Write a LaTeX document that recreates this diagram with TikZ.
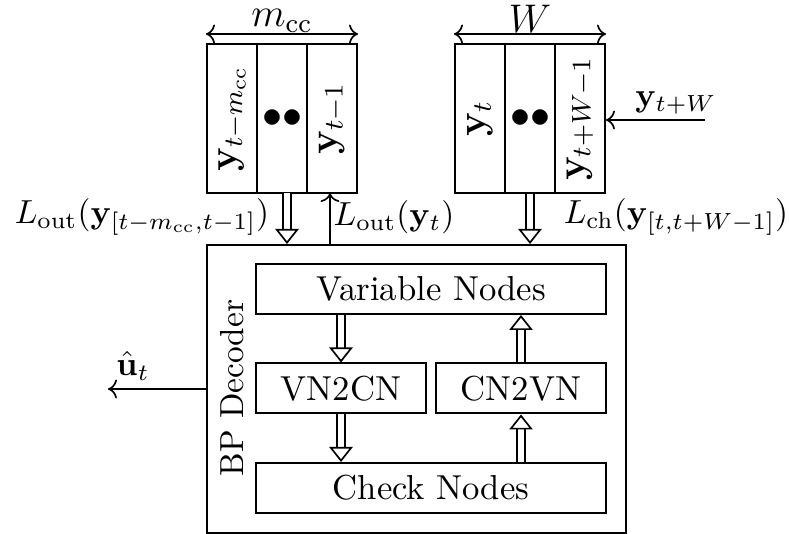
\documentclass[tikz,border=0pt]{standalone}
\usepackage{amsmath}
\usepackage{graphicx}
\usetikzlibrary{arrows.meta}
\tikzset{
      cell/.style={draw, line width=0.6pt, minimum width=15pt, minimum height=44.7pt, inner sep=0pt, font=\large},
      block/.style={draw, line width=0.6pt, minimum height=15pt, inner sep=0pt, font=\fontsize{10.4}{12.5}\selectfont},
      dbl/.style={draw, double, double distance=2pt, line width=0.5pt,
            -{Triangle[open, length=4.5pt, width=7pt]}},
      sgl/.style={draw, line width=0.5pt, -{To}},
      dimline/.style={draw, line width=0.5pt, {To}-{To}},
}
\begin{document}
\begin{tikzpicture}[x=0.3pt,y=-0.3pt]
        \useasboundingbox (0,0) rectangle (789,534);

        % Draw the buffers
        \node[cell] (l1) at (232,118.5) {\rotatebox{90}{$\mathbf{y}_{t-m_{\mathrm{cc}}}$}};
        \node[cell] (l2) at (282,118.5) {$\bullet\bullet$};
        \node[cell] (l3) at (332,118.5) {\rotatebox{90}{$\mathbf{y}_{t-1}$}};
        \node[cell] (r1) at (480,118.5) {\rotatebox{90}{$\mathbf{y}_{t}$}};
        \node[cell] (r2) at (530,118.5) {$\bullet\bullet$};
        \node[cell] (r3) at (580,118.5) {\rotatebox{90}{$\mathbf{y}_{t+W-1}$}};

        \draw[dimline] ([yshift=2.7pt]l1.north west) -- ([yshift=2.7pt]l3.north east) node[midway, above, inner sep=0.3pt, font=\large] {$m_{\mathrm{cc}}$};
        \draw[dimline] ([yshift=2.7pt]r1.north west) -- ([yshift=2.7pt]r3.north east) node[midway, above, inner sep=0.3pt, font=\large] {$W$};

        % Draw the decoder
        \node[draw, line width=0.6pt, minimum width=125.7pt, minimum height=86.4pt] (dec) at (416.5,389) {};
        \node[rotate=90] (bp) at (232,388) {BP Decoder};
        \node[block, minimum width=105pt] (vn) at (431,289) {Variable Nodes};
        \node[block, minimum width=51pt] (vc) at (341,388.5) {VN2CN};
        \node[block, minimum width=51pt] (cv) at (521,388.5) {CN2VN};
        \node[block, minimum width=105pt] (cn) at (431,488) {Check Nodes};

        \draw[dbl] (vn.south -| vc) -- (vc.north);
        \draw[dbl] (vc.south) -- (cn.north -| vc);
        \draw[dbl] (cn.north -| cv) -- (cv.south);
        \draw[dbl] (cv.north) -- (vn.south -| cv);

        % Draw the messages
        \coordinate (lin) at (287,193);
        \coordinate (lout) at (330,193);
        \coordinate (yin) at (705,120);
        \coordinate (uhat) at (108,389);

        \draw[dbl] (lin) -- (lin |- dec.north);
        \draw[sgl] (lout |- dec.north) -- (lout);
        \draw[dbl] (r2.south) -- (r2 |- dec.north);
        \draw[sgl] (yin) -- (yin -| r3.east);
        \draw[sgl] (dec.west) -- (uhat);

        \node (lold) at (142,217) {$L_{\mathrm{out}}(\mathbf{y}_{[t-m_{\mathrm{cc}},t-1]})$};
        \node (lnew) at (394,217) {$L_{\mathrm{out}}(\mathbf{y}_t)$};
        \node (lch) at (676,217) {$L_{\mathrm{ch}}(\mathbf{y}_{[t,t+W-1]})$};
        \node (ynew) at (676,103) {$\mathbf{y}_{t+W}$};
        \node (uh) at (133,366) {$\hat{\mathbf{u}}_t$};

    \end{tikzpicture}
\end{document}
